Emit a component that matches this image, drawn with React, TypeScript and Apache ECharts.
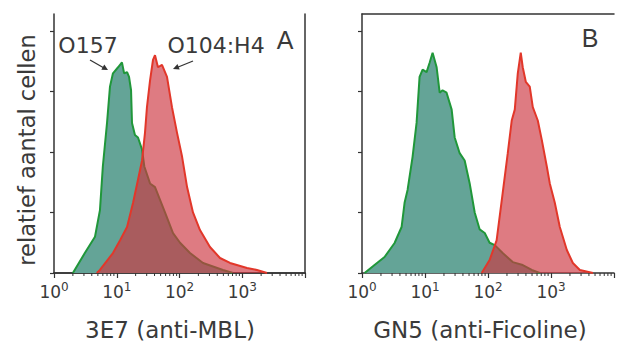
import React, { useEffect, useRef } from "react";
import * as echarts from "echarts";

// Panel A (3E7, anti-MBL)
const o157A_x = [2.0, 3.1, 4.5, 5.4, 6.0, 7.0, 7.8, 8.7, 10.5, 12.1, 13.1, 14.6, 15.7, 16.9, 17.5, 19.5, 21.8, 25.3, 27.5, 33.9, 40.7, 58.7, 78.8, 102, 147, 237, 493, 713];
const o157A_y = [0, 16.5, 30, 52, 88, 124, 154, 165, 170, 174, 165, 166, 162, 151, 124, 114, 112, 102, 88, 74, 71, 50, 33, 25, 16.5, 8.3, 2.5, 0];
const o104A_x = [4.8, 5.4, 8.7, 11.3, 14.6, 18.2, 21.8, 25.3, 28.2, 30.3, 33.9, 37.8, 40.7, 45.4, 52.6, 63.2, 75.9, 91.2, 110, 132, 164, 212, 306, 442, 638, 1191, 1718, 2478];
const o104A_y = [0, 2.5, 16.5, 27, 38, 58, 77, 93, 116, 137, 159, 176, 180, 170, 172, 162, 137, 116, 96, 71, 50, 35.5, 21.5, 12.4, 8.3, 4.1, 2.5, 0];

// Panel B (GN5, anti-Ficoline)
const o157B_x = [1.1, 1.58, 2.28, 3.29, 4.25, 4.74, 5.29, 6.35, 7.35, 8.2, 9.16, 10.6, 11.8, 13.2, 15.3, 17.1, 19.0, 22.0, 26.5, 29.6, 35.5, 42.6, 51.2, 61.5, 73.8, 88.7, 106, 128, 171, 247, 356, 495, 664];
const o157B_y = [0, 6.6, 13.2, 24.8, 38, 58, 68.6, 96, 124, 162, 168, 166, 173.5, 182, 170, 149, 151, 149, 135, 112, 99, 93, 74, 50, 36, 33, 25, 23, 16.5, 9, 6.6, 2.5, 0];
const o104B_x = [79.4, 106, 137, 171, 206, 238, 266, 297, 331, 356, 398, 460, 514, 617, 714, 858, 957, 1149, 1380, 1783, 2222, 2872, 4624];
const o104B_y = [0, 10.7, 27, 66, 99, 126, 135, 165, 182, 170, 158, 154, 137, 126, 110, 88, 74, 58, 38, 19, 8.3, 2.5, 0];

const yTicks = [0, 50, 100, 150, 200];
const minorTicks = [2, 3, 4, 5, 6, 7, 8, 9, 20, 30, 40, 50, 60, 70, 80, 90, 200, 300, 400, 500, 600, 700, 800, 900, 2000, 3000, 4000, 5000, 6000, 7000, 8000, 9000];
const xTitles = ["3E7 (anti-MBL)", "GN5 (anti-Ficoline)"];
const yTitle = "relatief aantal cellen";
const panelLetters = ["A", "B"];
const seriesNames = ["O157", "O104:H4"];

const X_MIN = 1;
const X_MAX = 10000;
const Y_MAX = 214;

const AXIS_COLOR = "#333";
const TEXT_COLOR = "#3a3a3a";
const FONT = "DejaVu Sans";

const zip = (xs: number[], ys: number[]) => xs.map((x, i) => [x, ys[i]]);

export default function App() {
  const ref = useRef<HTMLDivElement>(null);

  useEffect(() => {
    if (!ref.current) return;
    const chart = echarts.init(ref.current, null, { renderer: "svg" });

    const bottomX = (gridIndex: number) => ({
      type: "log",
      gridIndex,
      min: X_MIN,
      max: X_MAX,
      logBase: 10,
      position: "bottom",
      axisLine: { show: true, lineStyle: { color: AXIS_COLOR, width: 1.5 } },
      axisTick: { show: true, length: 5, lineStyle: { color: AXIS_COLOR, width: 1.2 } },
      splitLine: { show: false },
      axisLabel: {
        margin: 8,
        formatter: (v: number) => {
          const e = Math.round(Math.log10(v));
          if (e > 3) return "";
          return `{b|10}{s|${e}}`;
        },
        rich: {
          b: { fontSize: 17, fontFamily: FONT, color: "#3a3a3a", lineHeight: 21 },
          s: { fontSize: 12, fontFamily: FONT, color: "#3a3a3a", lineHeight: 12, verticalAlign: "top" },
        },
      },
    });
    const topX = (gridIndex: number) => ({
      type: "log",
      gridIndex,
      min: X_MIN,
      max: X_MAX,
      position: "top",
      axisLine: { show: true, lineStyle: { color: AXIS_COLOR, width: 1.5 } },
      axisTick: { show: false },
      axisLabel: { show: false },
      splitLine: { show: false },
    });
    const leftY = (gridIndex: number) => ({
      type: "value",
      gridIndex,
      min: 0,
      max: Y_MAX,
      position: "left",
      axisLine: { show: true, lineStyle: { color: AXIS_COLOR, width: 1.5 } },
      axisTick: { show: true, length: 4, customValues: yTicks, lineStyle: { color: AXIS_COLOR, width: 1.2 } },
      axisLabel: { show: false },
      splitLine: { show: false },
    });

    const areaSeries = (name: string, xi: number, yi: number, data: number[][], kind: "g" | "r") => ({
      type: "line",
      name,
      xAxisIndex: xi,
      yAxisIndex: yi,
      data,
      symbol: "none",
      smooth: false,
      lineStyle: { color: kind === "g" ? "#20973a" : "#e2372a", width: 2 },
      areaStyle: {
        color: kind === "g" ? "#64a497" : "rgba(205,55,65,0.66)",
        opacity: 1,
      },
      z: kind === "g" ? 2 : 3,
    });

    const minorTickSeries = (xi: number, yi: number) => ({
      type: "custom",
      xAxisIndex: xi,
      yAxisIndex: yi,
      data: minorTicks.map((v) => [v, 0]),
      encode: { x: 0, y: 1 },
      clip: false,
      z: 10,
      silent: true,
      renderItem: (_p: any, api: any) => {
        const pt = api.coord([api.value(0), 0]);
        return {
          type: "line",
          shape: { x1: pt[0], y1: pt[1], x2: pt[0], y2: pt[1] + 3 },
          style: { stroke: AXIS_COLOR, lineWidth: 1 },
        };
      },
    });

    const txt = (text: string, x: number, y: number, size: number, extra: any = {}) => ({
      type: "text",
      x,
      y,
      style: {
        text,
        fill: TEXT_COLOR,
        font: `${size}px "${extra.family || FONT}"`,
        textAlign: "center",
        textVerticalAlign: "middle",
      },
    });

    chart.setOption({
      animation: false,
      backgroundColor: "#fff",
      grid: [
        { left: 54, top: 14, width: 251, height: 259, containLabel: false },
        { left: 362, top: 14, width: 252, height: 259, containLabel: false },
      ],
      xAxis: [bottomX(0), topX(0), bottomX(1), topX(1)],
      yAxis: [
        leftY(0),
        {
          type: "value",
          gridIndex: 0,
          min: 0,
          max: Y_MAX,
          position: "right",
          axisLine: { show: true, lineStyle: { color: AXIS_COLOR, width: 1.5 } },
          axisTick: { show: false },
          axisLabel: { show: false },
          splitLine: { show: false },
        },
        leftY(1),
      ],
      series: [
        areaSeries(seriesNames[0], 0, 0, zip(o157A_x, o157A_y), "g"),
        areaSeries(seriesNames[1], 0, 0, zip(o104A_x, o104A_y), "r"),
        areaSeries(seriesNames[0], 2, 2, zip(o157B_x, o157B_y), "g"),
        areaSeries(seriesNames[1], 2, 2, zip(o104B_x, o104B_y), "r"),
        minorTickSeries(0, 0),
        minorTickSeries(2, 2),
      ],
      graphic: [
        txt(xTitles[0], 170, 330, 23),
        txt(xTitles[1], 480, 330, 23),
        { ...txt(yTitle, 27, 150, 22.5), rotation: Math.PI / 2 },
        txt(seriesNames[0], 88, 45, 22),
        txt(seriesNames[1], 216, 45, 22),
        txt(panelLetters[0], 285, 40, 25, { family: "Liberation Sans" }),
        txt(panelLetters[1], 590, 38, 25, { family: "Liberation Sans" }),
        { type: "line", shape: { x1: 90, y1: 60, x2: 104, y2: 68 }, style: { stroke: "#333", lineWidth: 1.3 } },
        { type: "polygon", shape: { points: [[108, 70], [101.3, 69.7], [104.3, 64.5]] }, style: { fill: "#333" } },
        { type: "line", shape: { x1: 193, y1: 61, x2: 177, y2: 67.5 }, style: { stroke: "#333", lineWidth: 1.3 } },
        { type: "polygon", shape: { points: [[173, 69], [177.5, 64.0], [179.7, 69.6]] }, style: { fill: "#333" } },
      ],
    });

    return () => chart.dispose();
  }, []);

  return <div ref={ref} style={{ position: "fixed", left: 0, top: 0, width: 618, height: 345 }} />;
}
